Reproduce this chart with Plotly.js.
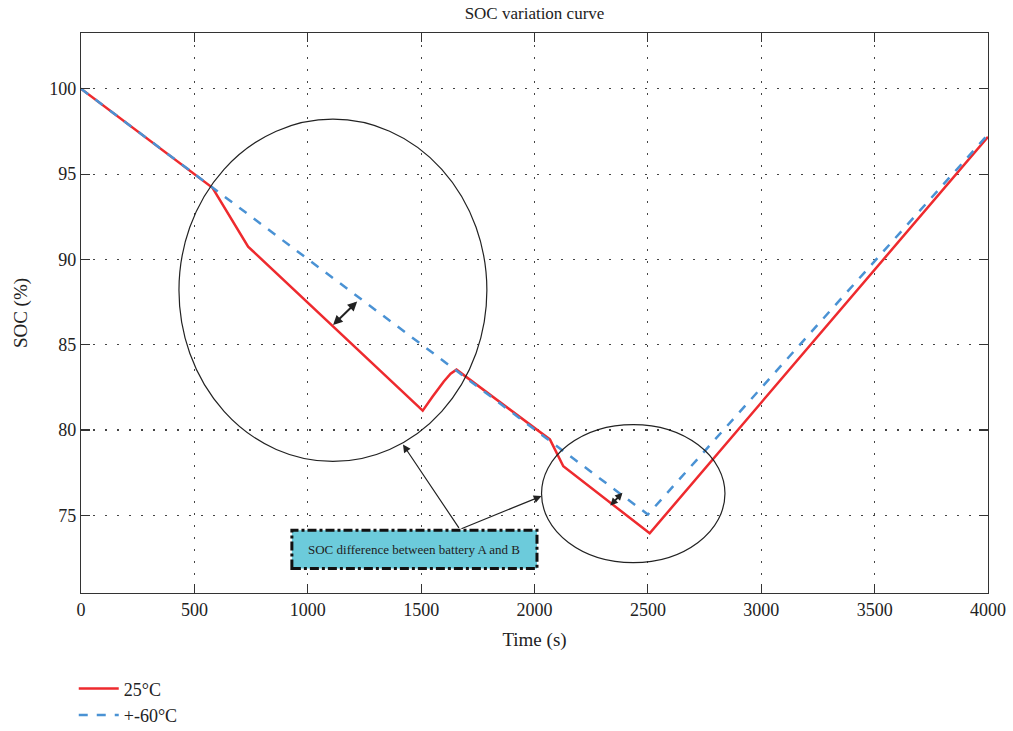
<!DOCTYPE html>
<html><head><meta charset="utf-8">
<script src="https://cdn.plot.ly/plotly-3.0.1.min.js"></script>
<style>body{margin:0;background:#fff}#chart{width:1013px;height:731px}</style>
</head><body><div id="chart"></div>
<script>
// Series data
const timeA = [0, 580, 737, 1507, 1550, 1600, 1630, 1656, 2068, 2127, 2508, 4000];
const soc25 = [100, 94.2, 90.75, 81.14, 81.95, 82.85, 83.3, 83.54, 79.45, 77.88, 73.95, 97.18];
const timeB = [0, 2500, 4000];
const socM60 = [100, 75.05, 97.32];
const xTicks = [0, 500, 1000, 1500, 2000, 2500, 3000, 3500, 4000];
const yTicks = [75, 80, 85, 90, 95, 100];
const seriesNames = ['25°C', '+-60°C'];
const calloutText = 'SOC difference between battery A and B';

const serif = 'Liberation Serif, Times New Roman, serif';
const traces = [
  {x: timeA, y: soc25, name: seriesNames[0], mode: 'lines', line: {color: '#ee2a2e', width: 2.5}},
  {x: timeB, y: socM60, name: seriesNames[1], mode: 'lines', line: {color: '#4a92d4', width: 2.5, dash: 'dash'}}
];
const axisCommon = {
  showline: true, mirror: 'allticks', linecolor: '#333', linewidth: 1.2,
  ticks: 'inside', ticklen: 9, tickcolor: '#333', tickwidth: 1.2,
  showgrid: true, gridcolor: '#444', griddash: '1.5px,10.5px', gridwidth: 1.2,
  zeroline: false, tickfont: {family: serif, size: 18, color: '#222'}
};
const layout = {
  width: 1013, height: 731,
  margin: {l: 81, r: 25, t: 33, b: 138, autoexpand: false},
  paper_bgcolor: '#fff', plot_bgcolor: '#fff',
  title: {text: 'SOC variation curve', font: {family: serif, size: 17, color: '#222'}, x: 0.5, xref: 'paper', xanchor: 'center', y: 0.99, yanchor: 'top'},
  xaxis: Object.assign({}, axisCommon, {range: [0, 4000], tickvals: xTicks,
    title: {text: 'Time (s)', font: {family: serif, size: 19, color: '#222'}, standoff: 14}}),
  yaxis: Object.assign({}, axisCommon, {range: [70.45, 103.27], tickvals: yTicks,
    title: {text: 'SOC (%)', font: {family: serif, size: 19, color: '#222'}, standoff: 16}}),
  showlegend: true,
  legend: {x: -0.008, xanchor: 'left', y: -0.138, yanchor: 'top', bgcolor: 'rgba(0,0,0,0)',
    font: {family: serif, size: 18, color: '#222'}, tracegroupgap: 0, itemwidth: 40},
  shapes: [
    {type: 'circle', xref: 'x', yref: 'y', x0: 432, x1: 1790, y0: 78.16, y1: 98.22, line: {color: '#222', width: 1.2}},
    {type: 'circle', xref: 'x', yref: 'y', x0: 2031, x1: 2840, y0: 72.23, y1: 80.32, line: {color: '#222', width: 1.2}},
    {type: 'rect', xref: 'x', yref: 'y', x0: 930, x1: 2011, y0: 71.88, y1: 74.13, fillcolor: '#6ccbdb', line: {color: '#111', width: 3, dash: 'dashdot'}}
  ],
  annotations: [
    {xref: 'x', yref: 'y', x: 1470, y: 73.0, text: calloutText, showarrow: false, font: {family: serif, size: 13, color: '#222'}},
    {xref: 'x', yref: 'y', axref: 'x', ayref: 'y', x: 1420, y: 79.15, ax: 1671, ay: 74.18, text: '', showarrow: true, arrowhead: 2, arrowsize: 1.3, arrowwidth: 1.2, arrowcolor: '#222'},
    {xref: 'x', yref: 'y', axref: 'x', ayref: 'y', x: 2031, y: 76.13, ax: 1671, ay: 74.18, text: '', showarrow: true, arrowhead: 2, arrowsize: 1.3, arrowwidth: 1.2, arrowcolor: '#222'},
    {xref: 'x', yref: 'y', axref: 'x', ayref: 'y', x: 1218, y: 87.53, ax: 1105, ay: 86.07, text: '', showarrow: true, arrowhead: 2, startarrowhead: 2, arrowside: 'end+start', arrowsize: 0.95, startarrowsize: 0.95, arrowwidth: 2, arrowcolor: '#222'},
    {xref: 'x', yref: 'y', axref: 'x', ayref: 'y', x: 2388, y: 76.33, ax: 2328, ay: 75.49, text: '', showarrow: true, arrowhead: 2, startarrowhead: 2, arrowside: 'end+start', arrowsize: 0.75, startarrowsize: 0.75, arrowwidth: 2, arrowcolor: '#222'}
  ]
};
Plotly.newPlot('chart', traces, layout, {displayModeBar: false, staticPlot: true});
</script></body></html>
